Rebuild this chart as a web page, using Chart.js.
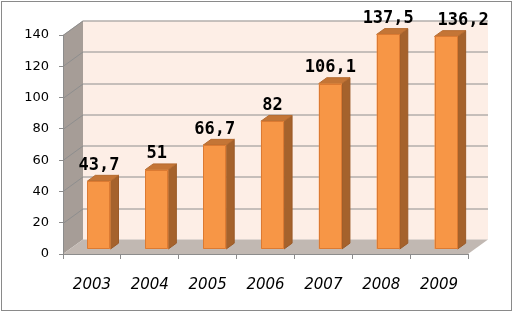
<!DOCTYPE html>
<html><head><meta charset="utf-8">
<script src="https://cdn.jsdelivr.net/npm/chart.js@4"></script>
<style>html,body{margin:0;padding:0;background:#fff;}#wrap{width:514px;height:312px;position:relative}</style>
</head><body><div id="wrap"><canvas id="c" width="514" height="312"></canvas></div>
<script>
const categories = ['2003','2004','2005','2006','2007','2008','2009'];
const values = [43.7, 51, 66.7, 82, 106.1, 137.5, 136.2];
const yTicks = [0, 20, 40, 60, 80, 100, 120, 140];

// 3D projection offsets and label nudges (styling only)
const WALL_DX = 20, WALL_DY = -14.5;
const FRONT_DX = 7, FRONT_DY = -4.5;
const DEPTH_DX = 8, DEPTH_DY = -5.8;
const LABEL_NUDGE_X = { '2009': 17 };

const fmt = v => String(v).replace('.', ',');

const threeD = {
  id: 'threeD',
  beforeDraw(chart) {
    const ctx = chart.ctx;
    const a = chart.chartArea;
    const ys = chart.scales.y;
    ctx.save();
    // outer border
    ctx.strokeStyle = '#8a8a8a';
    ctx.lineWidth = 1;
    ctx.strokeRect(1.5, 1.5, 510, 309);
    // back wall
    ctx.fillStyle = '#FDEEE6';
    ctx.fillRect(a.left + WALL_DX, a.top + WALL_DY, a.right - a.left, a.bottom - a.top);
    // left side wall
    ctx.fillStyle = '#A69D97';
    ctx.beginPath();
    ctx.moveTo(a.left, a.top);
    ctx.lineTo(a.left + WALL_DX, a.top + WALL_DY);
    ctx.lineTo(a.left + WALL_DX, a.bottom + WALL_DY);
    ctx.lineTo(a.left, a.bottom);
    ctx.closePath();
    ctx.fill();
    // floor
    ctx.fillStyle = '#C1B8B2';
    ctx.beginPath();
    ctx.moveTo(a.left, a.bottom);
    ctx.lineTo(a.left + WALL_DX, a.bottom + WALL_DY);
    ctx.lineTo(a.right + WALL_DX, a.bottom + WALL_DY);
    ctx.lineTo(a.right, a.bottom);
    ctx.closePath();
    ctx.fill();
    // gridlines
    ctx.strokeStyle = '#8E8E8E';
    ctx.lineWidth = 1;
    yTicks.forEach(v => {
      if (v === 0) return;
      const y = Math.round(ys.getPixelForValue(v)) + 0.5;
      ctx.beginPath();
      ctx.moveTo(a.left, y);
      ctx.lineTo(a.left + WALL_DX, y + WALL_DY);
      ctx.lineTo(a.right + WALL_DX, y + WALL_DY);
      ctx.stroke();
    });
    ctx.restore();
  },
  afterDatasetsDraw(chart) {
    const ctx = chart.ctx;
    const meta = chart.getDatasetMeta(0);
    ctx.save();
    meta.data.forEach((el, i) => {
      const p = el.getProps(['x', 'y', 'base', 'width'], true);
      const l = p.x - p.width / 2 + FRONT_DX;
      const r = p.x + p.width / 2 + FRONT_DX;
      const t = p.y + FRONT_DY;
      const b = p.base + FRONT_DY;
      ctx.lineWidth = 1;
      ctx.lineJoin = 'round';
      // side face
      ctx.fillStyle = '#A5622C';
      ctx.strokeStyle = '#9A5A28';
      ctx.beginPath();
      ctx.moveTo(r, t);
      ctx.lineTo(r + DEPTH_DX, t + DEPTH_DY);
      ctx.lineTo(r + DEPTH_DX, b + DEPTH_DY);
      ctx.lineTo(r, b);
      ctx.closePath();
      ctx.fill(); ctx.stroke();
      // top face
      ctx.fillStyle = '#C47536';
      ctx.strokeStyle = '#B56B30';
      ctx.beginPath();
      ctx.moveTo(l, t);
      ctx.lineTo(l + DEPTH_DX, t + DEPTH_DY);
      ctx.lineTo(r + DEPTH_DX, t + DEPTH_DY);
      ctx.lineTo(r, t);
      ctx.closePath();
      ctx.fill(); ctx.stroke();
      // front face
      ctx.fillStyle = '#F79646';
      ctx.strokeStyle = '#DC7A32';
      ctx.fillRect(l, t, r - l, b - t);
      ctx.strokeRect(Math.round(l) + 0.5, Math.round(t) + 0.5, Math.round(r - l) - 1, Math.round(b - t) - 1);
      // label
      ctx.fillStyle = '#000';
      ctx.font = 'bold 17px "DejaVu Sans Mono"';
      ctx.textAlign = 'center';
      ctx.textBaseline = 'alphabetic';
      const nx = LABEL_NUDGE_X[categories[i]] || 0;
      ctx.fillText(fmt(values[i]), (l + r) / 2 + nx, t + DEPTH_DY - 5.5);
    });
    ctx.restore();
  }
};

new Chart(document.getElementById('c'), {
  type: 'bar',
  data: {
    labels: categories,
    datasets: [{
      data: values,
      backgroundColor: 'rgba(0,0,0,0)',
      borderWidth: 0,
      barPercentage: 0.4,
      categoryPercentage: 1.0
    }]
  },
  options: {
    responsive: false,
    animation: false,
    events: [],
    layout: { padding: { top: 35, right: 46, left: 0, bottom: 0 } },
    plugins: { legend: { display: false }, tooltip: { enabled: false } },
    scales: {
      x: {
        grid: { display: true, drawOnChartArea: false, offset: true, tickLength: 5, color: '#8C8C8C' },
        border: { display: true, color: '#8C8C8C' },
        ticks: { font: { family: 'DejaVu Sans', size: 15, style: 'italic' }, color: '#000', padding: 17, maxRotation: 0 },
        afterFit(s) { s.height = 58; }
      },
      y: {
        min: 0, max: 140,
        afterBuildTicks(s) { s.ticks = yTicks.map(v => ({ value: v })); },
        grid: { display: true, drawOnChartArea: false, tickLength: 4, color: '#8C8C8C' },
        border: { display: true, color: '#8C8C8C' },
        ticks: { font: { family: 'DejaVu Sans', size: 13 }, color: '#000', padding: 10 },
        afterFit(s) { s.width = 63; }
      }
    }
  },
  plugins: [threeD]
});
</script>
</body></html>
